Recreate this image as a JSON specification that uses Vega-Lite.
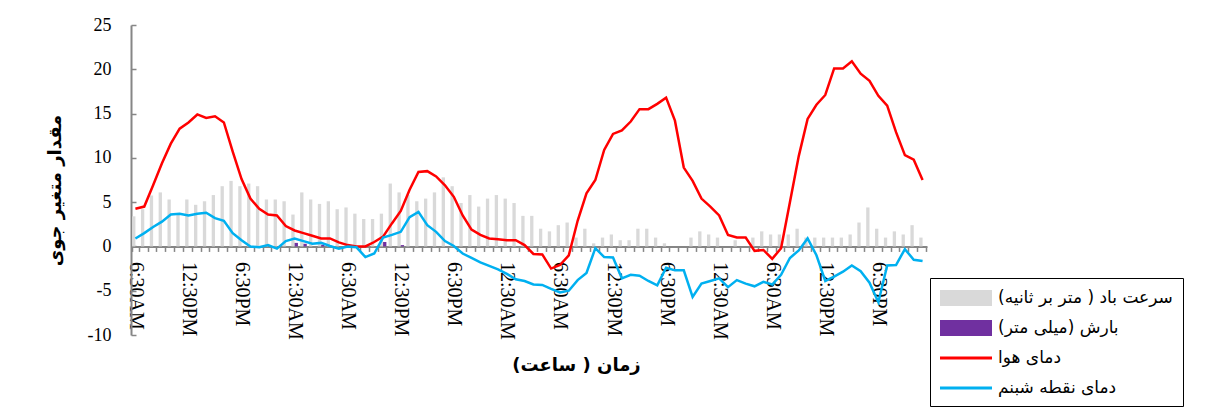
{
  "$schema": "https://vega.github.io/schema/vega-lite/v6.json",
  "width": 796,
  "height": 310,
  "autosize": {"type": "none"},
  "padding": {"left": 131, "top": 25, "right": 278, "bottom": 75},
  "background": "white",
  "config": {"view": {"stroke": null}},
  "data": {"values": [
    {"idx":0,"time":"06:30","wind":3.4,"precip":0,"temp":4.25,"dew":0.9},
    {"idx":1,"time":"07:30","wind":4.2,"precip":0,"temp":4.5,"dew":1.5},
    {"idx":2,"time":"08:30","wind":5.75,"precip":0,"temp":6.9,"dew":2.2},
    {"idx":3,"time":"09:30","wind":6.1,"precip":0,"temp":9.4,"dew":2.8},
    {"idx":4,"time":"10:30","wind":5.3,"precip":0,"temp":11.6,"dew":3.6},
    {"idx":5,"time":"11:30","wind":3.6,"precip":0,"temp":13.3,"dew":3.7},
    {"idx":6,"time":"12:30","wind":5.3,"precip":0,"temp":14.0,"dew":3.5},
    {"idx":7,"time":"13:30","wind":4.7,"precip":0,"temp":14.9,"dew":3.7},
    {"idx":8,"time":"14:30","wind":5.1,"precip":0,"temp":14.5,"dew":3.8},
    {"idx":9,"time":"15:30","wind":5.8,"precip":0,"temp":14.7,"dew":3.2},
    {"idx":10,"time":"16:30","wind":6.8,"precip":0,"temp":14.0,"dew":2.9},
    {"idx":11,"time":"17:30","wind":7.4,"precip":0,"temp":10.7,"dew":1.5},
    {"idx":12,"time":"18:30","wind":6.8,"precip":0,"temp":7.6,"dew":0.7},
    {"idx":13,"time":"19:30","wind":7.1,"precip":0,"temp":5.4,"dew":0.0},
    {"idx":14,"time":"20:30","wind":6.8,"precip":0,"temp":4.25,"dew":-0.1},
    {"idx":15,"time":"21:30","wind":5.3,"precip":0,"temp":3.6,"dew":0.15},
    {"idx":16,"time":"22:30","wind":5.3,"precip":0,"temp":3.5,"dew":-0.25},
    {"idx":17,"time":"23:30","wind":5.1,"precip":0,"temp":2.3,"dew":0.6},
    {"idx":18,"time":"00:30","wind":3.6,"precip":0.4,"temp":1.8,"dew":0.9},
    {"idx":19,"time":"01:30","wind":6.1,"precip":0.3,"temp":1.5,"dew":0.6},
    {"idx":20,"time":"02:30","wind":5.3,"precip":0,"temp":1.2,"dew":0.3},
    {"idx":21,"time":"03:30","wind":4.8,"precip":0.2,"temp":0.9,"dew":0.4},
    {"idx":22,"time":"04:30","wind":5.1,"precip":0,"temp":0.9,"dew":0.05},
    {"idx":23,"time":"05:30","wind":4.2,"precip":0,"temp":0.45,"dew":-0.25},
    {"idx":24,"time":"06:30","wind":4.4,"precip":0,"temp":0.15,"dew":0.0},
    {"idx":25,"time":"07:30","wind":3.7,"precip":0,"temp":0.0,"dew":-0.1},
    {"idx":26,"time":"08:30","wind":3.1,"precip":0,"temp":0.0,"dew":-1.2},
    {"idx":27,"time":"09:30","wind":3.1,"precip":0,"temp":0.5,"dew":-0.8},
    {"idx":28,"time":"10:30","wind":3.7,"precip":0.5,"temp":1.1,"dew":1.0},
    {"idx":29,"time":"11:30","wind":7.1,"precip":0,"temp":2.6,"dew":1.3},
    {"idx":30,"time":"12:30","wind":6.1,"precip":0.15,"temp":4.0,"dew":1.65},
    {"idx":31,"time":"13:30","wind":5.8,"precip":0,"temp":6.4,"dew":3.3},
    {"idx":32,"time":"14:30","wind":5.1,"precip":0,"temp":8.4,"dew":3.9},
    {"idx":33,"time":"15:30","wind":5.4,"precip":0,"temp":8.5,"dew":2.4},
    {"idx":34,"time":"16:30","wind":6.1,"precip":0,"temp":7.9,"dew":1.65},
    {"idx":35,"time":"17:30","wind":7.8,"precip":0,"temp":6.9,"dew":0.6},
    {"idx":36,"time":"18:30","wind":6.8,"precip":0,"temp":5.6,"dew":0.05},
    {"idx":37,"time":"19:30","wind":4.9,"precip":0,"temp":3.5,"dew":-0.8},
    {"idx":38,"time":"20:30","wind":5.8,"precip":0,"temp":1.9,"dew":-1.3},
    {"idx":39,"time":"21:30","wind":4.5,"precip":0,"temp":1.3,"dew":-1.8},
    {"idx":40,"time":"22:30","wind":5.4,"precip":0,"temp":0.9,"dew":-2.2},
    {"idx":41,"time":"23:30","wind":5.8,"precip":0,"temp":0.8,"dew":-2.6},
    {"idx":42,"time":"00:30","wind":5.4,"precip":0,"temp":0.7,"dew":-3.1},
    {"idx":43,"time":"01:30","wind":4.9,"precip":0,"temp":0.7,"dew":-3.7},
    {"idx":44,"time":"02:30","wind":3.45,"precip":0,"temp":0.15,"dew":-3.9},
    {"idx":45,"time":"03:30","wind":3.45,"precip":0,"temp":-0.85,"dew":-4.3},
    {"idx":46,"time":"04:30","wind":2.0,"precip":0,"temp":-0.9,"dew":-4.35},
    {"idx":47,"time":"05:30","wind":1.7,"precip":0,"temp":-2.5,"dew":-4.8},
    {"idx":48,"time":"06:30","wind":2.4,"precip":0,"temp":-2.1,"dew":-5.2},
    {"idx":49,"time":"07:30","wind":2.7,"precip":0,"temp":-1.0,"dew":-5.0},
    {"idx":50,"time":"08:30","wind":1.0,"precip":0,"temp":2.9,"dew":-3.8},
    {"idx":51,"time":"09:30","wind":2.0,"precip":0,"temp":6.0,"dew":-3.0},
    {"idx":52,"time":"10:30","wind":0.35,"precip":0,"temp":7.5,"dew":-0.2},
    {"idx":53,"time":"11:30","wind":1.0,"precip":0,"temp":10.9,"dew":-1.2},
    {"idx":54,"time":"12:30","wind":1.35,"precip":0,"temp":12.7,"dew":-1.25},
    {"idx":55,"time":"13:30","wind":0.7,"precip":0,"temp":13.1,"dew":-3.6},
    {"idx":56,"time":"14:30","wind":0.7,"precip":0,"temp":14.1,"dew":-3.2},
    {"idx":57,"time":"15:30","wind":2.0,"precip":0,"temp":15.5,"dew":-3.3},
    {"idx":58,"time":"16:30","wind":2.0,"precip":0,"temp":15.5,"dew":-3.9},
    {"idx":59,"time":"17:30","wind":1.0,"precip":0,"temp":16.1,"dew":-4.4},
    {"idx":60,"time":"18:30","wind":0.35,"precip":0,"temp":16.8,"dew":-2.4},
    {"idx":61,"time":"19:30","wind":0,"precip":0,"temp":14.2,"dew":-2.7},
    {"idx":62,"time":"20:30","wind":0,"precip":0,"temp":8.9,"dew":-2.7},
    {"idx":63,"time":"21:30","wind":1.0,"precip":0,"temp":7.4,"dew":-5.7},
    {"idx":64,"time":"22:30","wind":1.7,"precip":0,"temp":5.4,"dew":-4.2},
    {"idx":65,"time":"23:30","wind":1.35,"precip":0,"temp":4.5,"dew":-3.9},
    {"idx":66,"time":"00:30","wind":1.0,"precip":0,"temp":3.5,"dew":-3.6},
    {"idx":67,"time":"01:30","wind":0,"precip":0,"temp":1.3,"dew":-4.6},
    {"idx":68,"time":"02:30","wind":0.7,"precip":0,"temp":1.0,"dew":-3.8},
    {"idx":69,"time":"03:30","wind":0,"precip":0,"temp":1.0,"dew":-4.2},
    {"idx":70,"time":"04:30","wind":1.0,"precip":0,"temp":-0.5,"dew":-4.5},
    {"idx":71,"time":"05:30","wind":1.7,"precip":0,"temp":-0.4,"dew":-4.0},
    {"idx":72,"time":"06:30","wind":1.35,"precip":0,"temp":-1.4,"dew":-4.3},
    {"idx":73,"time":"07:30","wind":1.35,"precip":0,"temp":-0.2,"dew":-3.2},
    {"idx":74,"time":"08:30","wind":1.35,"precip":0,"temp":5.0,"dew":-1.3},
    {"idx":75,"time":"09:30","wind":2.0,"precip":0,"temp":10.2,"dew":-0.45},
    {"idx":76,"time":"10:30","wind":1.0,"precip":0,"temp":14.4,"dew":0.9},
    {"idx":77,"time":"11:30","wind":1.0,"precip":0,"temp":16.0,"dew":-1.0},
    {"idx":78,"time":"12:30","wind":1.0,"precip":0,"temp":17.1,"dew":-3.9},
    {"idx":79,"time":"13:30","wind":1.0,"precip":0,"temp":20.1,"dew":-3.4},
    {"idx":80,"time":"14:30","wind":1.0,"precip":0,"temp":20.1,"dew":-2.85},
    {"idx":81,"time":"15:30","wind":1.35,"precip":0,"temp":20.9,"dew":-2.15},
    {"idx":82,"time":"16:30","wind":2.7,"precip":0,"temp":19.5,"dew":-2.8},
    {"idx":83,"time":"17:30","wind":4.4,"precip":0,"temp":18.7,"dew":-4.1},
    {"idx":84,"time":"18:30","wind":2.0,"precip":0,"temp":17.0,"dew":-6.3},
    {"idx":85,"time":"19:30","wind":1.0,"precip":0,"temp":15.9,"dew":-2.15},
    {"idx":86,"time":"20:30","wind":1.7,"precip":0,"temp":12.9,"dew":-2.1},
    {"idx":87,"time":"21:30","wind":1.35,"precip":0,"temp":10.3,"dew":-0.3},
    {"idx":88,"time":"22:30","wind":2.4,"precip":0,"temp":9.8,"dew":-1.5},
    {"idx":89,"time":"23:30","wind":1.0,"precip":0,"temp":7.5,"dew":-1.65}
  ]},
  "transform": [{"fold": ["wind", "precip", "temp", "dew"], "as": ["series", "value"]}],
  "encoding": {
    "x": {
      "field": "idx", "type": "ordinal",
      "scale": {"type": "band", "paddingInner": 0.25, "paddingOuter": 0.125},
      "axis": {
        "offset": -88.57,
        "domainColor": "#868686", "domainWidth": 2,
        "tickColor": "#868686", "tickWidth": 1.5, "tickSize": 5, "tickBand": "extent",
        "labelAngle": 90, "labelFont": "Liberation Serif", "labelFontSize": 20, "labelColor": "black",
        "labelPadding": 10, "labelOverlap": false, "labelBound": false, "labelFlush": false,
        "labelExpr": "datum.value % 6 == 0 ? ['6:30AM','12:30PM','6:30PM','12:30AM'][(datum.value / 6) % 4] : ''",
        "title": "زمان ( ساعت)", "titleFont": "DejaVu Sans", "titleFontSize": 18, "titleFontWeight": "bold",
        "titleColor": "black", "titleX": 445, "titleY": 119, "titleAlign": "center", "titleBaseline": "middle",
        "grid": false
      }
    },
    "y": {
      "field": "value", "type": "quantitative",
      "scale": {"domain": [-10, 25], "nice": false, "zero": false},
      "axis": {
        "values": [-10, -5, 0, 5, 10, 15, 20, 25],
        "domainColor": "#868686", "domainWidth": 2,
        "tickColor": "#868686", "tickWidth": 1.5, "tickSize": -5,
        "labelFont": "Liberation Serif", "labelFontSize": 18, "labelColor": "black", "labelPadding": 25,
        "labelExpr": "'' + datum.value",
        "title": "مقدار متغیر جوی", "titleFont": "DejaVu Sans", "titleFontSize": 18, "titleFontWeight": "bold",
        "titleColor": "black", "titleX": -76, "titleY": 165, "titleAlign": "center", "titleBaseline": "middle",
        "grid": false
      }
    },
    "color": {
      "field": "series", "type": "nominal",
      "scale": {"domain": ["wind", "precip", "temp", "dew"], "range": ["#D9D9D9", "#7030A0", "#FF0000", "#00B0F0"]},
      "legend": {
        "orient": "none", "legendX": 799, "legendY": 253, "direction": "vertical",
        "title": null, "strokeColor": "black", "fillColor": "white", "padding": 10,
        "symbolSize": 400, "symbolOffset": 16, "labelOffset": 22, "rowPadding": 12,
        "labelFont": "DejaVu Sans", "labelFontSize": 17, "labelColor": "black", "labelLimit": 400,
        "labelExpr": "{'wind': 'سرعت باد ( متر بر ثانیه)', 'precip': 'بارش (میلی متر)', 'temp': 'دمای هوا', 'dew': 'دمای نقطه شبنم'}[datum.value]",
        "encode": {
          "symbols": {
            "update": {
              "shape": {"signal": "(datum.value == 'temp' || datum.value == 'dew') ? 'M-2.6,-0.15H2.6V0.15H-2.6Z' : 'M-2.6,-0.8H2.6V0.8H-2.6Z'"},
              "fill": {"scale": "color", "field": "value"},
              "fillOpacity": {"value": 1},
              "strokeWidth": {"value": 0}
            }
          }
        }
      }
    }
  },
  "layer": [
    {
      "transform": [{"filter": "datum.series == 'wind' || datum.series == 'precip'"}],
      "mark": {"type": "bar"},
      "encoding": {
        "xOffset": {"field": "series", "type": "nominal", "scale": {"domain": ["wind", "precip"]}}
      }
    },
    {
      "transform": [{"filter": "datum.series == 'temp' || datum.series == 'dew'"}],
      "mark": {"type": "line", "strokeWidth": 2.5}
    }
  ]
}
